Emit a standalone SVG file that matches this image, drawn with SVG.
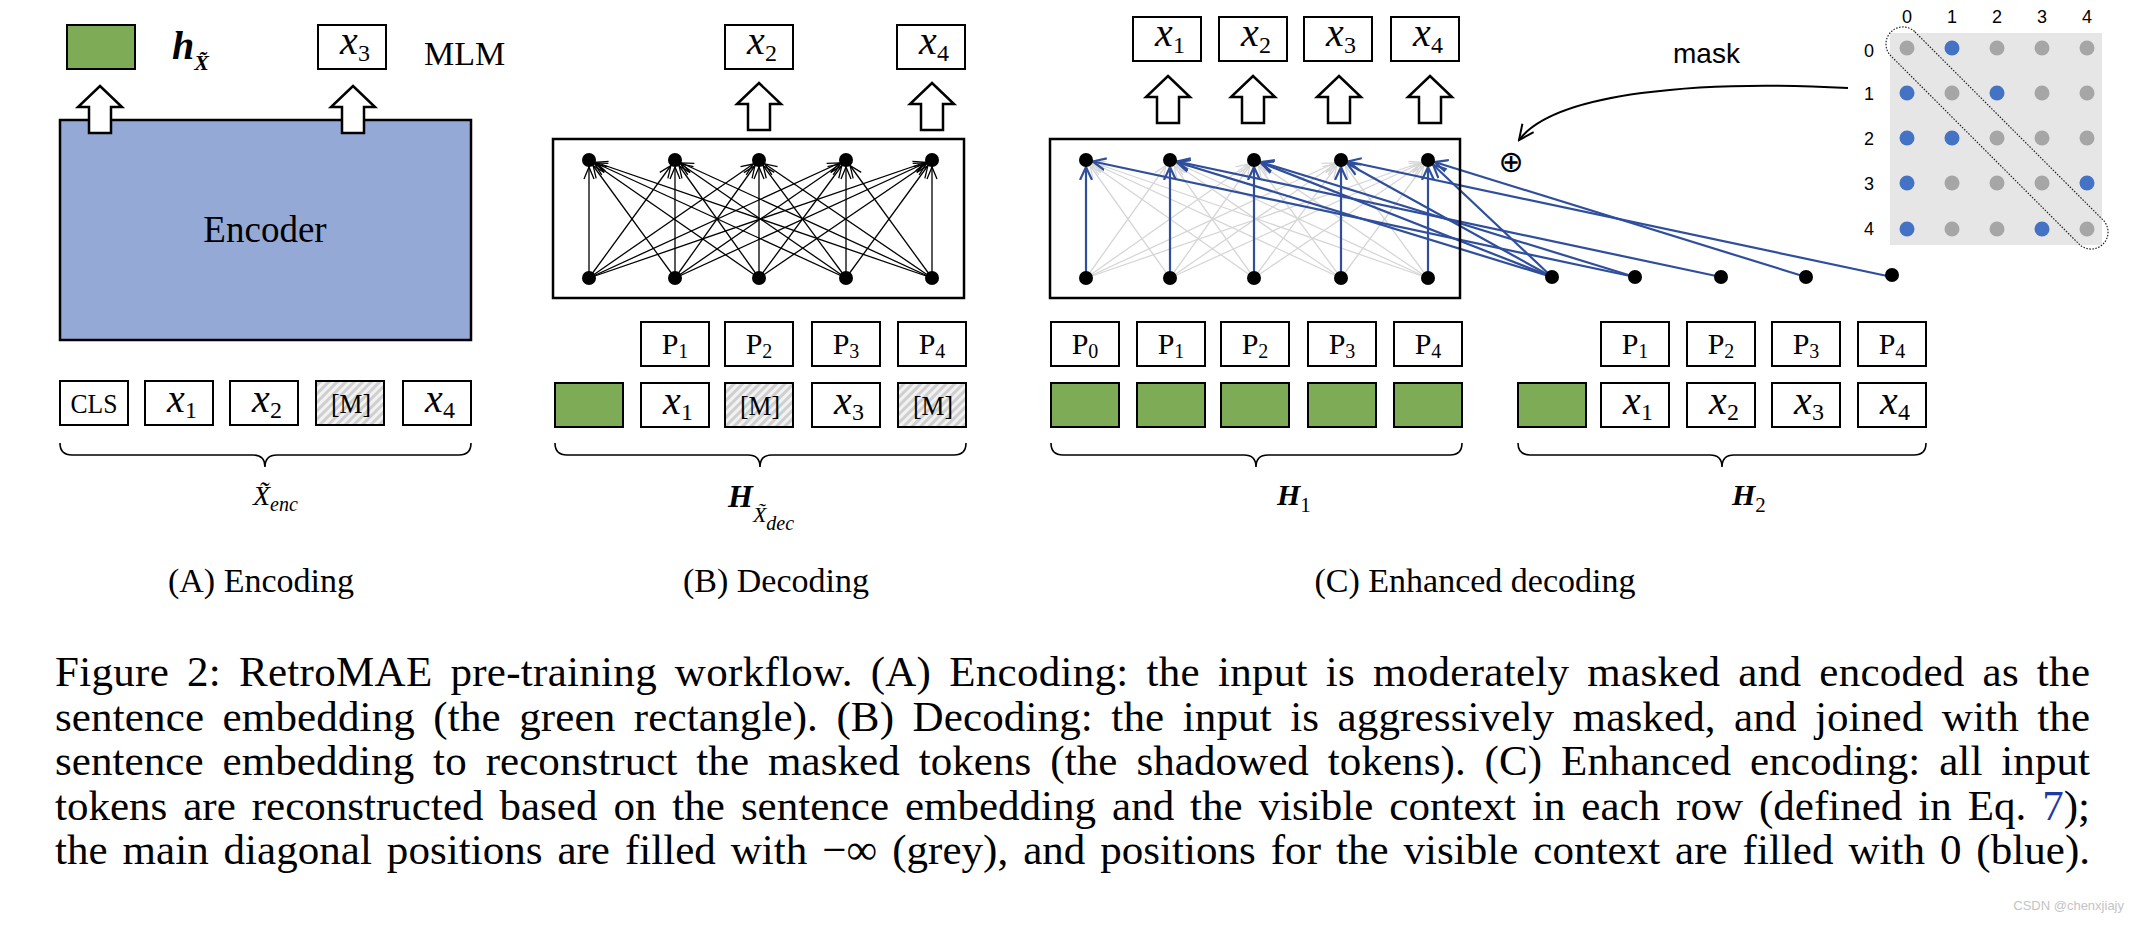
<svg xmlns="http://www.w3.org/2000/svg" width="2142" height="928" viewBox="0 0 2142 928">
<style>
.box{fill:#fff;stroke:#000;stroke-width:2}
.grn{fill:#7EAB55;stroke:#000;stroke-width:2}
.hat{fill:url(#hatch);stroke:#000;stroke-width:2}
.mi{font-family:"Liberation Serif",serif;font-style:italic;font-size:40px;fill:#000}
.sub{font-style:normal;font-size:24px}
.tk{font-family:"Liberation Serif",serif;font-size:28px;fill:#000}
.pk{font-family:"Liberation Serif",serif;font-size:30px;fill:#000}
.arr{fill:#fff;stroke:#000;stroke-width:2.5}
.lb{stroke:#000;stroke-width:1.3;fill:none}
.lg{stroke:#D6D6D6;stroke-width:1.3;fill:none}
.lbl{stroke:#2F4E9C;stroke-width:2.2;fill:none}
.frame{fill:none;stroke:#000;stroke-width:2.5}
.brace{fill:none;stroke:#000;stroke-width:1.6}
.cap{font-family:"Liberation Serif",serif;font-size:43px;fill:#000}
.sl{font-family:"Liberation Serif",serif;font-size:34px;fill:#000}
.bi{font-family:"Liberation Serif",serif;font-style:italic;font-weight:bold;fill:#000}
.it{font-family:"Liberation Serif",serif;font-style:italic;fill:#000}
.sans{font-family:"Liberation Sans",sans-serif;fill:#000}
.db{fill:#4472C4}
.dg{fill:#A6A6A6}
</style>
<defs>
<pattern id="hatch" width="6" height="6" patternUnits="userSpaceOnUse" patternTransform="rotate(45)">
<rect width="6" height="6" fill="#CFCFCF"/><rect width="3" height="6" fill="#F2F2F2"/>
</pattern>
<marker id="mk" viewBox="-20 -8 22 16" refX="0" refY="0" markerWidth="22" markerHeight="16" markerUnits="userSpaceOnUse" orient="auto">
<path d="M-19,-5 L-7,0 L-19,5" fill="none" stroke="#000" stroke-width="1.3"/>
</marker>
<marker id="mg" viewBox="-20 -8 22 16" refX="0" refY="0" markerWidth="22" markerHeight="16" markerUnits="userSpaceOnUse" orient="auto">
<path d="M-19,-5 L-7,0 L-19,5" fill="none" stroke="#D6D6D6" stroke-width="1.3"/>
</marker>
<marker id="mbl" viewBox="-20 -8 22 16" refX="0" refY="0" markerWidth="22" markerHeight="16" markerUnits="userSpaceOnUse" orient="auto">
<path d="M-20,-6 L-7,0 L-20,6" fill="none" stroke="#2F4E9C" stroke-width="2.2"/>
</marker>
<marker id="mc" viewBox="-16 -8 18 16" refX="0" refY="0" markerWidth="18" markerHeight="16" markerUnits="userSpaceOnUse" orient="auto">
<path d="M-15,-7 L0,0 L-15,7" fill="none" stroke="#000" stroke-width="2"/>
</marker>
</defs>
<rect width="2142" height="928" fill="#fff"/>

<!-- connectors -->
<g id="connectors">
<g id="b-lines" marker-end="url(#mk)">
<line class="lb" x1="589" y1="278" x2="589" y2="160"/><line class="lb" x1="675" y1="278" x2="589" y2="160"/><line class="lb" x1="759" y1="278" x2="589" y2="160"/><line class="lb" x1="846" y1="278" x2="589" y2="160"/><line class="lb" x1="932" y1="278" x2="589" y2="160"/>
<line class="lb" x1="589" y1="278" x2="675" y2="160"/><line class="lb" x1="675" y1="278" x2="675" y2="160"/><line class="lb" x1="759" y1="278" x2="675" y2="160"/><line class="lb" x1="846" y1="278" x2="675" y2="160"/><line class="lb" x1="932" y1="278" x2="675" y2="160"/>
<line class="lb" x1="589" y1="278" x2="759" y2="160"/><line class="lb" x1="675" y1="278" x2="759" y2="160"/><line class="lb" x1="759" y1="278" x2="759" y2="160"/><line class="lb" x1="846" y1="278" x2="759" y2="160"/><line class="lb" x1="932" y1="278" x2="759" y2="160"/>
<line class="lb" x1="589" y1="278" x2="846" y2="160"/><line class="lb" x1="675" y1="278" x2="846" y2="160"/><line class="lb" x1="759" y1="278" x2="846" y2="160"/><line class="lb" x1="846" y1="278" x2="846" y2="160"/><line class="lb" x1="932" y1="278" x2="846" y2="160"/>
<line class="lb" x1="589" y1="278" x2="932" y2="160"/><line class="lb" x1="675" y1="278" x2="932" y2="160"/><line class="lb" x1="759" y1="278" x2="932" y2="160"/><line class="lb" x1="846" y1="278" x2="932" y2="160"/><line class="lb" x1="932" y1="278" x2="932" y2="160"/>
</g>
<g id="c-grey" marker-end="url(#mg)">
<line class="lg" x1="1170" y1="278" x2="1086" y2="160"/><line class="lg" x1="1254" y1="278" x2="1086" y2="160"/><line class="lg" x1="1341" y1="278" x2="1086" y2="160"/><line class="lg" x1="1428" y1="278" x2="1086" y2="160"/>
<line class="lg" x1="1086" y1="278" x2="1170" y2="160"/><line class="lg" x1="1254" y1="278" x2="1170" y2="160"/><line class="lg" x1="1341" y1="278" x2="1170" y2="160"/><line class="lg" x1="1428" y1="278" x2="1170" y2="160"/>
<line class="lg" x1="1086" y1="278" x2="1254" y2="160"/><line class="lg" x1="1170" y1="278" x2="1254" y2="160"/><line class="lg" x1="1341" y1="278" x2="1254" y2="160"/><line class="lg" x1="1428" y1="278" x2="1254" y2="160"/>
<line class="lg" x1="1086" y1="278" x2="1341" y2="160"/><line class="lg" x1="1170" y1="278" x2="1341" y2="160"/><line class="lg" x1="1254" y1="278" x2="1341" y2="160"/><line class="lg" x1="1428" y1="278" x2="1341" y2="160"/>
<line class="lg" x1="1086" y1="278" x2="1428" y2="160"/><line class="lg" x1="1170" y1="278" x2="1428" y2="160"/><line class="lg" x1="1254" y1="278" x2="1428" y2="160"/><line class="lg" x1="1341" y1="278" x2="1428" y2="160"/>
</g>
<g id="c-blue" marker-end="url(#mbl)">
<line class="lbl" x1="1086" y1="278" x2="1086" y2="160"/><line class="lbl" x1="1170" y1="278" x2="1170" y2="160"/><line class="lbl" x1="1254" y1="278" x2="1254" y2="160"/><line class="lbl" x1="1341" y1="278" x2="1341" y2="160"/><line class="lbl" x1="1428" y1="278" x2="1428" y2="160"/>
<line class="lbl" x1="1635" y1="277" x2="1086" y2="160"/>
<line class="lbl" x1="1552" y1="277" x2="1170" y2="160"/><line class="lbl" x1="1721" y1="277" x2="1170" y2="160"/>
<line class="lbl" x1="1552" y1="277" x2="1254" y2="160"/><line class="lbl" x1="1635" y1="277" x2="1254" y2="160"/>
<line class="lbl" x1="1552" y1="277" x2="1341" y2="160"/><line class="lbl" x1="1892" y1="277" x2="1341" y2="160"/>
<line class="lbl" x1="1552" y1="277" x2="1428" y2="160"/><line class="lbl" x1="1806" y1="277" x2="1428" y2="160"/>
</g>
<path id="mask-arrow" d="M1848,88 C1700,80 1555,92 1519,140" fill="none" stroke="#000" stroke-width="2" marker-end="url(#mc)"/>
</g>

<!-- Panel A -->
<g id="encoder">
<rect x="60" y="120" width="411" height="220" fill="#95A9D7" stroke="#000" stroke-width="2.5"/>
<text x="265" y="242" font-family="Liberation Serif, serif" font-size="37" text-anchor="middle">Encoder</text>
</g>
<g id="a-out-h">
<rect class="grn" x="67" y="25" width="68" height="44"/>
<path class="arr" d="M100,86 L122,107 L111,107 L111,133 L89,133 L89,107 L78,107 Z"/>
<text class="bi" x="172" y="59" font-size="40">h<tspan font-size="22" dy="11">X̃</tspan></text>
</g>
<g id="a-out-x3">
<rect class="box" x="318" y="25" width="68" height="44"/>
<text class="mi" x="355" y="54" text-anchor="middle">x<tspan class="sub" dy="7">3</tspan></text>
<path class="arr" d="M353,86 L375,107 L364,107 L364,133 L342,133 L342,107 L331,107 Z"/>
<text x="424" y="65" font-family="Liberation Serif, serif" font-size="34">MLM</text>
</g>
<g id="a-tokens">
<rect class="box" x="60" y="381" width="68" height="44"/>
<text class="tk" x="94" y="413" text-anchor="middle" textLength="47" lengthAdjust="spacingAndGlyphs">CLS</text>
<rect class="box" x="145" y="381" width="68" height="44"/>
<text class="mi" x="182" y="412" text-anchor="middle">x<tspan class="sub" dy="6">1</tspan></text>
<rect class="box" x="230" y="381" width="68" height="44"/>
<text class="mi" x="267" y="412" text-anchor="middle">x<tspan class="sub" dy="6">2</tspan></text>
<rect class="hat" x="316" y="381" width="68" height="44"/>
<text class="tk" x="351" y="413" text-anchor="middle" textLength="40" lengthAdjust="spacingAndGlyphs">[M]</text>
<rect class="box" x="403" y="381" width="68" height="44"/>
<text class="mi" x="440" y="412" text-anchor="middle">x<tspan class="sub" dy="6">4</tspan></text>
</g>
<g id="a-brace">
<path class="brace" d="M60,443 Q60,455 72,455 L253,455 Q265,455 265,467 Q265,455 277,455 L459,455 Q471,455 471,443"/>
<text class="it" x="253" y="505" font-size="28">X̃<tspan font-size="20" dy="6">enc</tspan></text>
</g>
<text id="label-a" class="sl" x="261" y="592" text-anchor="middle">(A) Encoding</text>

<!-- Panel B -->
<g id="b-outputs">
<rect class="box" x="725" y="25" width="68" height="44"/>
<text class="mi" x="762" y="54" text-anchor="middle">x<tspan class="sub" dy="7">2</tspan></text>
<rect class="box" x="897" y="25" width="68" height="44"/>
<text class="mi" x="934" y="54" text-anchor="middle">x<tspan class="sub" dy="7">4</tspan></text>
<path class="arr" d="M759,83 L781,104 L770,104 L770,130 L748,130 L748,104 L737,104 Z"/>
<path class="arr" d="M932,83 L954,104 L943,104 L943,130 L921,130 L921,104 L910,104 Z"/>
</g>
<g id="b-decoder">
<rect class="frame" x="553" y="139" width="411" height="159"/>
<circle cx="589" cy="160" r="7"/><circle cx="675" cy="160" r="7"/><circle cx="759" cy="160" r="7"/><circle cx="846" cy="160" r="7"/><circle cx="932" cy="160" r="7"/>
<circle cx="589" cy="278" r="7"/><circle cx="675" cy="278" r="7"/><circle cx="759" cy="278" r="7"/><circle cx="846" cy="278" r="7"/><circle cx="932" cy="278" r="7"/>
</g>
<g id="b-positions">
<rect class="box" x="641" y="322" width="68" height="44"/><text class="pk" x="675" y="354" text-anchor="middle">P<tspan font-size="20" dy="4">1</tspan></text>
<rect class="box" x="725" y="322" width="68" height="44"/><text class="pk" x="759" y="354" text-anchor="middle">P<tspan font-size="20" dy="4">2</tspan></text>
<rect class="box" x="812" y="322" width="68" height="44"/><text class="pk" x="846" y="354" text-anchor="middle">P<tspan font-size="20" dy="4">3</tspan></text>
<rect class="box" x="898" y="322" width="68" height="44"/><text class="pk" x="932" y="354" text-anchor="middle">P<tspan font-size="20" dy="4">4</tspan></text>
</g>
<g id="b-tokens">
<rect class="grn" x="555" y="383" width="68" height="44"/>
<rect class="box" x="641" y="383" width="68" height="44"/><text class="mi" x="678" y="414" text-anchor="middle">x<tspan class="sub" dy="6">1</tspan></text>
<rect class="hat" x="725" y="383" width="68" height="44"/><text class="tk" x="760" y="415" text-anchor="middle" textLength="40" lengthAdjust="spacingAndGlyphs">[M]</text>
<rect class="box" x="812" y="383" width="68" height="44"/><text class="mi" x="849" y="414" text-anchor="middle">x<tspan class="sub" dy="6">3</tspan></text>
<rect class="hat" x="898" y="383" width="68" height="44"/><text class="tk" x="933" y="415" text-anchor="middle" textLength="40" lengthAdjust="spacingAndGlyphs">[M]</text>
</g>
<g id="b-brace">
<path class="brace" d="M555,443 Q555,455 567,455 L748,455 Q760,455 760,467 Q760,455 772,455 L954,455 Q966,455 966,443"/>
<text class="bi" x="728" y="507" font-size="32">H<tspan class="it" font-weight="normal" font-size="22" dy="15">X̃</tspan><tspan class="it" font-weight="normal" font-size="20" dy="8">dec</tspan></text>
</g>
<text id="label-b" class="sl" x="776" y="592" text-anchor="middle">(B) Decoding</text>

<!-- Panel C -->
<g id="c-outputs">
<rect class="box" x="1133" y="17" width="68" height="44"/><text class="mi" x="1170" y="46" text-anchor="middle">x<tspan class="sub" dy="7">1</tspan></text>
<rect class="box" x="1219" y="17" width="68" height="44"/><text class="mi" x="1256" y="46" text-anchor="middle">x<tspan class="sub" dy="7">2</tspan></text>
<rect class="box" x="1304" y="17" width="68" height="44"/><text class="mi" x="1341" y="46" text-anchor="middle">x<tspan class="sub" dy="7">3</tspan></text>
<rect class="box" x="1391" y="17" width="68" height="44"/><text class="mi" x="1428" y="46" text-anchor="middle">x<tspan class="sub" dy="7">4</tspan></text>
<path class="arr" d="M1168,76 L1190,97 L1179,97 L1179,123 L1157,123 L1157,97 L1146,97 Z"/>
<path class="arr" d="M1253,76 L1275,97 L1264,97 L1264,123 L1242,123 L1242,97 L1231,97 Z"/>
<path class="arr" d="M1339,76 L1361,97 L1350,97 L1350,123 L1328,123 L1328,97 L1317,97 Z"/>
<path class="arr" d="M1430,76 L1452,97 L1441,97 L1441,123 L1419,123 L1419,97 L1408,97 Z"/>
</g>
<g id="c-decoder">
<rect class="frame" x="1050" y="139" width="410" height="159"/>
<circle cx="1086" cy="160" r="7"/><circle cx="1170" cy="160" r="7"/><circle cx="1254" cy="160" r="7"/><circle cx="1341" cy="160" r="7"/><circle cx="1428" cy="160" r="7"/>
<circle cx="1086" cy="278" r="7"/><circle cx="1170" cy="278" r="7"/><circle cx="1254" cy="278" r="7"/><circle cx="1341" cy="278" r="7"/><circle cx="1428" cy="278" r="7"/>
</g>
<g id="c-h1">
<rect class="box" x="1051" y="322" width="68" height="44"/><text class="pk" x="1085" y="354" text-anchor="middle">P<tspan font-size="20" dy="4">0</tspan></text>
<rect class="box" x="1137" y="322" width="68" height="44"/><text class="pk" x="1171" y="354" text-anchor="middle">P<tspan font-size="20" dy="4">1</tspan></text>
<rect class="box" x="1221" y="322" width="68" height="44"/><text class="pk" x="1255" y="354" text-anchor="middle">P<tspan font-size="20" dy="4">2</tspan></text>
<rect class="box" x="1308" y="322" width="68" height="44"/><text class="pk" x="1342" y="354" text-anchor="middle">P<tspan font-size="20" dy="4">3</tspan></text>
<rect class="box" x="1394" y="322" width="68" height="44"/><text class="pk" x="1428" y="354" text-anchor="middle">P<tspan font-size="20" dy="4">4</tspan></text>
<rect class="grn" x="1051" y="383" width="68" height="44"/>
<rect class="grn" x="1137" y="383" width="68" height="44"/>
<rect class="grn" x="1221" y="383" width="68" height="44"/>
<rect class="grn" x="1308" y="383" width="68" height="44"/>
<rect class="grn" x="1394" y="383" width="68" height="44"/>
<path class="brace" d="M1051,443 Q1051,455 1063,455 L1244,455 Q1256,455 1256,467 Q1256,455 1268,455 L1450,455 Q1462,455 1462,443"/>
<text class="bi" x="1277" y="505" font-size="30">H<tspan font-family="Liberation Serif, serif" font-style="normal" font-weight="normal" font-size="21" dy="7">1</tspan></text>
</g>
<g id="c-h2">
<circle cx="1552" cy="277" r="7"/><circle cx="1635" cy="277" r="7"/><circle cx="1721" cy="277" r="7"/><circle cx="1806" cy="277" r="7"/><circle cx="1892" cy="275" r="7"/>
<rect class="box" x="1601" y="322" width="68" height="44"/><text class="pk" x="1635" y="354" text-anchor="middle">P<tspan font-size="20" dy="4">1</tspan></text>
<rect class="box" x="1687" y="322" width="68" height="44"/><text class="pk" x="1721" y="354" text-anchor="middle">P<tspan font-size="20" dy="4">2</tspan></text>
<rect class="box" x="1772" y="322" width="68" height="44"/><text class="pk" x="1806" y="354" text-anchor="middle">P<tspan font-size="20" dy="4">3</tspan></text>
<rect class="box" x="1858" y="322" width="68" height="44"/><text class="pk" x="1892" y="354" text-anchor="middle">P<tspan font-size="20" dy="4">4</tspan></text>
<rect class="grn" x="1518" y="383" width="68" height="44"/>
<rect class="box" x="1601" y="383" width="68" height="44"/><text class="mi" x="1638" y="414" text-anchor="middle">x<tspan class="sub" dy="6">1</tspan></text>
<rect class="box" x="1687" y="383" width="68" height="44"/><text class="mi" x="1724" y="414" text-anchor="middle">x<tspan class="sub" dy="6">2</tspan></text>
<rect class="box" x="1772" y="383" width="68" height="44"/><text class="mi" x="1809" y="414" text-anchor="middle">x<tspan class="sub" dy="6">3</tspan></text>
<rect class="box" x="1858" y="383" width="68" height="44"/><text class="mi" x="1895" y="414" text-anchor="middle">x<tspan class="sub" dy="6">4</tspan></text>
<path class="brace" d="M1518,443 Q1518,455 1530,455 L1710,455 Q1722,455 1722,467 Q1722,455 1734,455 L1914,455 Q1926,455 1926,443"/>
<text class="bi" x="1732" y="505" font-size="30">H<tspan font-family="Liberation Serif, serif" font-style="normal" font-weight="normal" font-size="21" dy="7">2</tspan></text>
</g>
<g id="c-mask">
<text class="sans" x="1673" y="63" font-size="28">mask</text>
<text x="1511" y="172" font-family="DejaVu Sans, sans-serif" font-size="30" text-anchor="middle">⊕</text>
<rect x="1890" y="33" width="212" height="212" fill="#E6E6E6"/>
<g class="sans" font-size="18" text-anchor="middle">
<text x="1907" y="23">0</text><text x="1952" y="23">1</text><text x="1997" y="23">2</text><text x="2042" y="23">3</text><text x="2087" y="23">4</text>
<text x="1869" y="57">0</text><text x="1869" y="100">1</text><text x="1869" y="145">2</text><text x="1869" y="190">3</text><text x="1869" y="235">4</text>
</g>
<circle class="dg" cx="1907" cy="48" r="7.5"/><circle class="db" cx="1952" cy="48" r="7.5"/><circle class="dg" cx="1997" cy="48" r="7.5"/><circle class="dg" cx="2042" cy="48" r="7.5"/><circle class="dg" cx="2087" cy="48" r="7.5"/>
<circle class="db" cx="1907" cy="93" r="7.5"/><circle class="dg" cx="1952" cy="93" r="7.5"/><circle class="db" cx="1997" cy="93" r="7.5"/><circle class="dg" cx="2042" cy="93" r="7.5"/><circle class="dg" cx="2087" cy="93" r="7.5"/>
<circle class="db" cx="1907" cy="138" r="7.5"/><circle class="db" cx="1952" cy="138" r="7.5"/><circle class="dg" cx="1997" cy="138" r="7.5"/><circle class="dg" cx="2042" cy="138" r="7.5"/><circle class="dg" cx="2087" cy="138" r="7.5"/>
<circle class="db" cx="1907" cy="183" r="7.5"/><circle class="dg" cx="1952" cy="183" r="7.5"/><circle class="dg" cx="1997" cy="183" r="7.5"/><circle class="dg" cx="2042" cy="183" r="7.5"/><circle class="db" cx="2087" cy="183" r="7.5"/>
<circle class="db" cx="1907" cy="229" r="7.5"/><circle class="dg" cx="1952" cy="229" r="7.5"/><circle class="dg" cx="1997" cy="229" r="7.5"/><circle class="db" cx="2042" cy="229" r="7.5"/><circle class="dg" cx="2087" cy="229" r="7.5"/>
<rect x="1847" y="121" width="300" height="34" rx="17" fill="none" stroke="#222" stroke-width="1.2" stroke-dasharray="1.5,1.5" transform="rotate(45 1997 138)"/>
</g>
<text id="label-c" class="sl" x="1475" y="592" text-anchor="middle">(C) Enhanced decoding</text>

<!-- caption -->
<g id="caption" class="cap">
<text x="55" y="686" textLength="2035" lengthAdjust="spacing" word-spacing="6.9">Figure 2: RetroMAE pre-training workflow. (A) Encoding: the input is moderately masked and encoded as the</text>
<text x="55" y="730.5" textLength="2035" lengthAdjust="spacing" word-spacing="7.5">sentence embedding (the green rectangle). (B) Decoding: the input is aggressively masked, and joined with the</text>
<text x="55" y="775" textLength="2035" lengthAdjust="spacing" word-spacing="8.1">sentence embedding to reconstruct the masked tokens (the shadowed tokens). (C) Enhanced encoding: all input</text>
<text x="55" y="819.5" textLength="2035" lengthAdjust="spacing" word-spacing="5.2">tokens are reconstructed based on the sentence embedding and the visible context in each row (defined in Eq. <tspan fill="#1F3AA8">7</tspan>);</text>
<text x="55" y="864" textLength="2035" lengthAdjust="spacing" word-spacing="4.1">the main diagonal positions are filled with −∞ (grey), and positions for the visible context are filled with 0 (blue).</text>
</g>
<text id="watermark" x="2124" y="910" font-family="Liberation Sans, sans-serif" font-size="13" fill="#C4C4C4" text-anchor="end">CSDN @chenxjiajy</text>
</svg>
